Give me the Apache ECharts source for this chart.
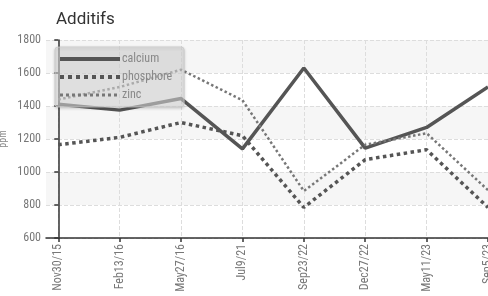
<!DOCTYPE html>
<html>
<head>
<meta charset="utf-8">
<script src="https://cdn.jsdelivr.net/npm/echarts@6/dist/echarts.min.js"></script>
<style>
  html, body { margin: 0; padding: 0; background: #fff; }
  #chart { width: 488px; height: 296px; }
</style>
</head>
<body>
<div id="chart"></div>
<script>
var dates = ['Nov30/15', 'Feb13/16', 'May27/16', 'Jul9/21', 'Sep23/22', 'Dec27/22', 'May11/23', 'Sep5/23'];
var calcium = [1410, 1375, 1445, 1140, 1630, 1145, 1270, 1515];
var phosphore = [1165, 1210, 1300, 1220, 785, 1075, 1135, 785];
var zinc = [1440, 1515, 1620, 1435, 885, 1165, 1235, 890];
var yTicks = [600, 800, 1000, 1200, 1400, 1600, 1800];

var font = '"Roboto Condensed", "Liberation Sans Narrow", Roboto, sans-serif';

function pts(arr) {
  return arr.map(function (v, i) { return [i, v]; });
}

var chart = echarts.init(document.getElementById('chart'));
chart.setOption({
  animation: false,
  title: {
    text: 'Additifs',
    left: 51,
    top: 6,
    textStyle: { color: '#333', fontSize: 17, fontWeight: 'normal', fontFamily: 'Roboto, sans-serif' }
  },
  legend: {
    orient: 'vertical',
    left: 55,
    top: 47,
    padding: [6, 12, 6, 3],
    itemWidth: 60,
    itemHeight: 10,
    itemGap: 6,
    backgroundColor: 'rgba(225,225,225,0.55)',
    borderColor: 'rgba(200,200,200,0.8)',
    borderWidth: 1,
    borderRadius: 3,
    shadowColor: 'rgba(0,0,0,0.25)',
    shadowBlur: 3,
    shadowOffsetY: 1,
    itemStyle: { opacity: 0 },
    textStyle: { color: '#888', fontSize: 12, fontFamily: font, padding: [0, 0, 0, -3] },
    data: [
      { name: 'calcium', lineStyle: { width: 4 } },
      { name: 'phosphore', lineStyle: { width: 4, type: 'dotted' } },
      { name: 'zinc', lineStyle: { width: 3, type: 'dotted' } }
    ]
  },
  grid: { left: 46, right: 0, top: 40, bottom: 58, outerBoundsMode: 'none' },
  xAxis: {
    type: 'value',
    min: -0.2,
    max: 7,
    axisLine: { show: true, lineStyle: { color: '#333', width: 1.5 } },
    axisTick: { show: true, length: 4, customValues: [0, 1, 2, 3, 4, 5, 6, 7], lineStyle: { color: '#333', width: 1.5 } },
    axisLabel: {
      customValues: [0, 1, 2, 3, 4, 5, 6, 7],
      rotate: 90,
      color: '#777',
      fontSize: 12,
      fontFamily: font,
      margin: 6,
      hideOverlap: false,
      formatter: function (v) { return dates[Math.round(v)]; }
    },
    splitLine: { show: true, lineStyle: { color: '#ddd', type: 'dashed' } }
  },
  yAxis: {
    type: 'value',
    min: yTicks[0],
    max: yTicks[yTicks.length - 1],
    interval: 200,
    name: 'ppm',
    nameLocation: 'middle',
    nameGap: 38,
    nameMoveOverlap: false,
    nameTextStyle: { color: '#888', fontSize: 10, fontFamily: font },
    axisLine: { show: true, lineStyle: { color: '#333', width: 1.5 } },
    axisTick: { show: true, length: 4, lineStyle: { color: '#333', width: 1.5 } },
    axisLabel: { color: '#777', fontSize: 12, fontFamily: font, margin: 5, formatter: function (v) { return String(v); } },
    splitLine: { show: true, lineStyle: { color: '#ddd', type: 'dashed' } },
    splitArea: { show: true, areaStyle: { color: ['#fff', '#f6f6f6'] } }
  },
  series: [
    {
      name: 'calcium',
      type: 'line',
      symbol: 'none',
      data: pts(calcium),
      lineStyle: { color: '#555', width: 3.5 },
      itemStyle: { color: '#555' }
    },
    {
      name: 'phosphore',
      type: 'line',
      symbol: 'none',
      data: pts(phosphore),
      lineStyle: { color: '#555', width: 3.5, type: 'dotted' },
      itemStyle: { color: '#555' }
    },
    {
      name: 'zinc',
      type: 'line',
      symbol: 'none',
      data: pts(zinc),
      lineStyle: { color: '#777', width: 2.5, type: 'dotted' },
      itemStyle: { color: '#777' }
    }
  ]
});
</script>
</body>
</html>
